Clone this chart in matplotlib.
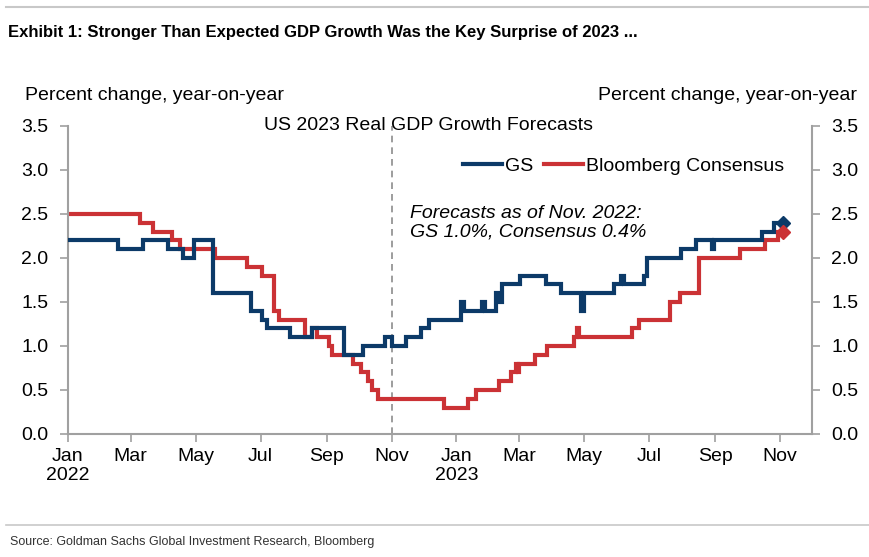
import numpy as np
import matplotlib
matplotlib.use("Agg")
import matplotlib.pyplot as plt
import matplotlib.dates as mdates
from matplotlib.lines import Line2D

# forecast revisions: date of change -> new forecast (percent, yoy)
gs_dates = [
    "2022-01-01", "2022-02-17", "2022-03-12", "2022-04-05", "2022-04-19", "2022-04-29",
    "2022-05-17", "2022-06-22", "2022-07-02", "2022-07-07", "2022-07-29", "2022-08-18",
    "2022-09-17", "2022-10-05", "2022-10-26", "2022-11-01", "2022-11-15", "2022-11-29",
    "2022-12-06", "2023-01-05", "2023-01-08", "2023-01-25", "2023-01-28", "2023-02-07",
    "2023-02-11", "2023-02-13", "2023-03-02", "2023-03-26", "2023-04-09", "2023-04-28",
    "2023-05-01", "2023-05-29", "2023-06-05", "2023-06-07", "2023-06-26", "2023-06-29",
    "2023-07-31", "2023-08-14", "2023-08-29", "2023-08-31", "2023-10-15", "2023-10-26",
    "2023-11-04",
]
gs_values = [
    2.2, 2.1, 2.2, 2.1, 2.0, 2.2,
    1.6, 1.4, 1.3, 1.2, 1.1, 1.2,
    0.9, 1.0, 1.1, 1.0, 1.1, 1.2,
    1.3, 1.5, 1.4, 1.5, 1.4, 1.6,
    1.5, 1.7, 1.8, 1.7, 1.6, 1.4,
    1.6, 1.7, 1.8, 1.7, 1.8, 2.0,
    2.1, 2.2, 2.1, 2.2, 2.3, 2.4,
    2.4,
]

bbg_dates = [
    "2022-01-01", "2022-03-10", "2022-03-22", "2022-04-09", "2022-04-16", "2022-05-19",
    "2022-06-18", "2022-07-02", "2022-07-14", "2022-07-18", "2022-08-12", "2022-08-18",
    "2022-08-23", "2022-09-03", "2022-09-06", "2022-09-26", "2022-10-03", "2022-10-10",
    "2022-10-14", "2022-10-19", "2022-12-20", "2023-01-12", "2023-01-19", "2023-02-10",
    "2023-02-21", "2023-02-26", "2023-02-28", "2023-03-01", "2023-03-16", "2023-03-27",
    "2023-04-21", "2023-04-24", "2023-04-26", "2023-06-15", "2023-06-21", "2023-07-21",
    "2023-07-30", "2023-08-17", "2023-09-24", "2023-10-18", "2023-10-30", "2023-11-04",
]
bbg_values = [
    2.5, 2.4, 2.3, 2.2, 2.1, 2.0,
    1.9, 1.8, 1.4, 1.3, 1.1, 1.2,
    1.1, 1.0, 0.9, 0.8, 0.7, 0.6,
    0.5, 0.4, 0.3, 0.4, 0.5, 0.6,
    0.7, 0.8, 0.7, 0.8, 0.9, 1.0,
    1.1, 1.2, 1.1, 1.2, 1.3, 1.5,
    1.6, 2.0, 2.1, 2.2, 2.3, 2.3,
]

y_ticks = [0.0, 0.5, 1.0, 1.5, 2.0, 2.5, 3.0, 3.5]
marker_date = "2022-11-01"

GS_BLUE = "#0c3a68"
BBG_RED = "#cb3235"
AXIS_GREY = "#a0a0a0"
FS = 14

plt.rcParams["font.family"] = ["Liberation Sans", "DejaVu Sans"]

fig = plt.figure(figsize=(8.7, 5.57), dpi=100)
ax = fig.add_axes([68 / 870, 1 - 434 / 557, (812 - 68) / 870, (434 - 126) / 557])

gs_x = np.array(gs_dates, dtype="datetime64[D]")
bbg_x = np.array(bbg_dates, dtype="datetime64[D]")

ax.step(gs_x, gs_values, where="post", color=GS_BLUE, lw=3, zorder=3,
        solid_joinstyle="miter")
ax.step(bbg_x, bbg_values, where="post", color=BBG_RED, lw=3, zorder=2,
        solid_joinstyle="miter")
ax.plot(gs_x[-1], gs_values[-1], marker="D", ms=7, color=GS_BLUE, zorder=4)
ax.plot(bbg_x[-1], bbg_values[-1], marker="D", ms=7, color=BBG_RED, zorder=4)

ax.axvline(np.datetime64(marker_date), color="#8c8c8c", lw=1.2, ls=(0, (4, 3)), zorder=1)

ax.set_xlim(np.datetime64("2022-01-01"), np.datetime64("2023-12-01"))
ax.set_ylim(0, 3.5)
ax.set_yticks(y_ticks)
ax.yaxis.set_major_formatter(plt.FuncFormatter(lambda v, p: f"{v:.1f}"))

ax.xaxis.set_major_locator(mdates.MonthLocator(bymonth=[1, 3, 5, 7, 9, 11]))


def month_fmt(v, pos):
    d = mdates.num2date(v)
    lab = d.strftime("%b")
    if d.month == 1:
        lab += f"\n{d.year}"
    return lab


ax.xaxis.set_major_formatter(plt.FuncFormatter(month_fmt))

for side in ["left", "right", "bottom"]:
    ax.spines[side].set_color(AXIS_GREY)
    ax.spines[side].set_linewidth(1.5)
ax.spines["top"].set_visible(False)

ax.tick_params(axis="y", which="both", left=True, right=True, labelleft=True,
               labelright=True, direction="out", length=6, width=1.2,
               color=AXIS_GREY, labelsize=FS, pad=8)
ax.tick_params(axis="x", direction="out", length=6, width=1.2, color=AXIS_GREY,
               labelsize=FS, pad=4)

# panel texts
ax.text(0.485, 1.0, "US 2023 Real GDP Growth Forecasts", transform=ax.transAxes,
        ha="center", va="center", fontsize=FS)
fig.text(25 / 870, 1 - 95 / 557, "Percent change, year-on-year", ha="left",
         va="center", fontsize=FS)
fig.text(857 / 870, 1 - 95 / 557, "Percent change, year-on-year", ha="right",
         va="center", fontsize=FS)

ax.text(np.datetime64("2022-11-18"), 2.4, "Forecasts as of Nov. 2022:\nGS 1.0%, Consensus 0.4%",
        ha="left", va="center", fontsize=FS, style="italic", linespacing=1.05)

handles = [Line2D([], [], color=GS_BLUE, lw=3), Line2D([], [], color=BBG_RED, lw=3)]
ax.legend(handles, ["GS", "Bloomberg Consensus"], ncol=2, frameon=False,
          loc="center left", bbox_to_anchor=((463 - 68) / 744, (434 - 166) / 308),
          fontsize=FS, handlelength=2.0, handletextpad=0.15, columnspacing=0.55,
          borderaxespad=0, borderpad=0)

# exhibit title, source and rules
fig.text(8 / 870, 1 - 33 / 557,
         "Exhibit 1: Stronger Than Expected GDP Growth Was the Key Surprise of 2023 ...",
         ha="left", va="center", fontsize=12, fontweight="bold")
fig.text(10 / 870, 1 - 542 / 557,
         "Source: Goldman Sachs Global Investment Research, Bloomberg",
         ha="left", va="center", fontsize=9, color="#333333")
fig.add_artist(Line2D([6 / 870, 1], [1 - 7 / 557] * 2, color="#c8c8c8", lw=1.5))
fig.add_artist(Line2D([6 / 870, 1], [1 - 525 / 557] * 2, color="#c8c8c8", lw=1.2))

fig.savefig("out.png", dpi=100)
